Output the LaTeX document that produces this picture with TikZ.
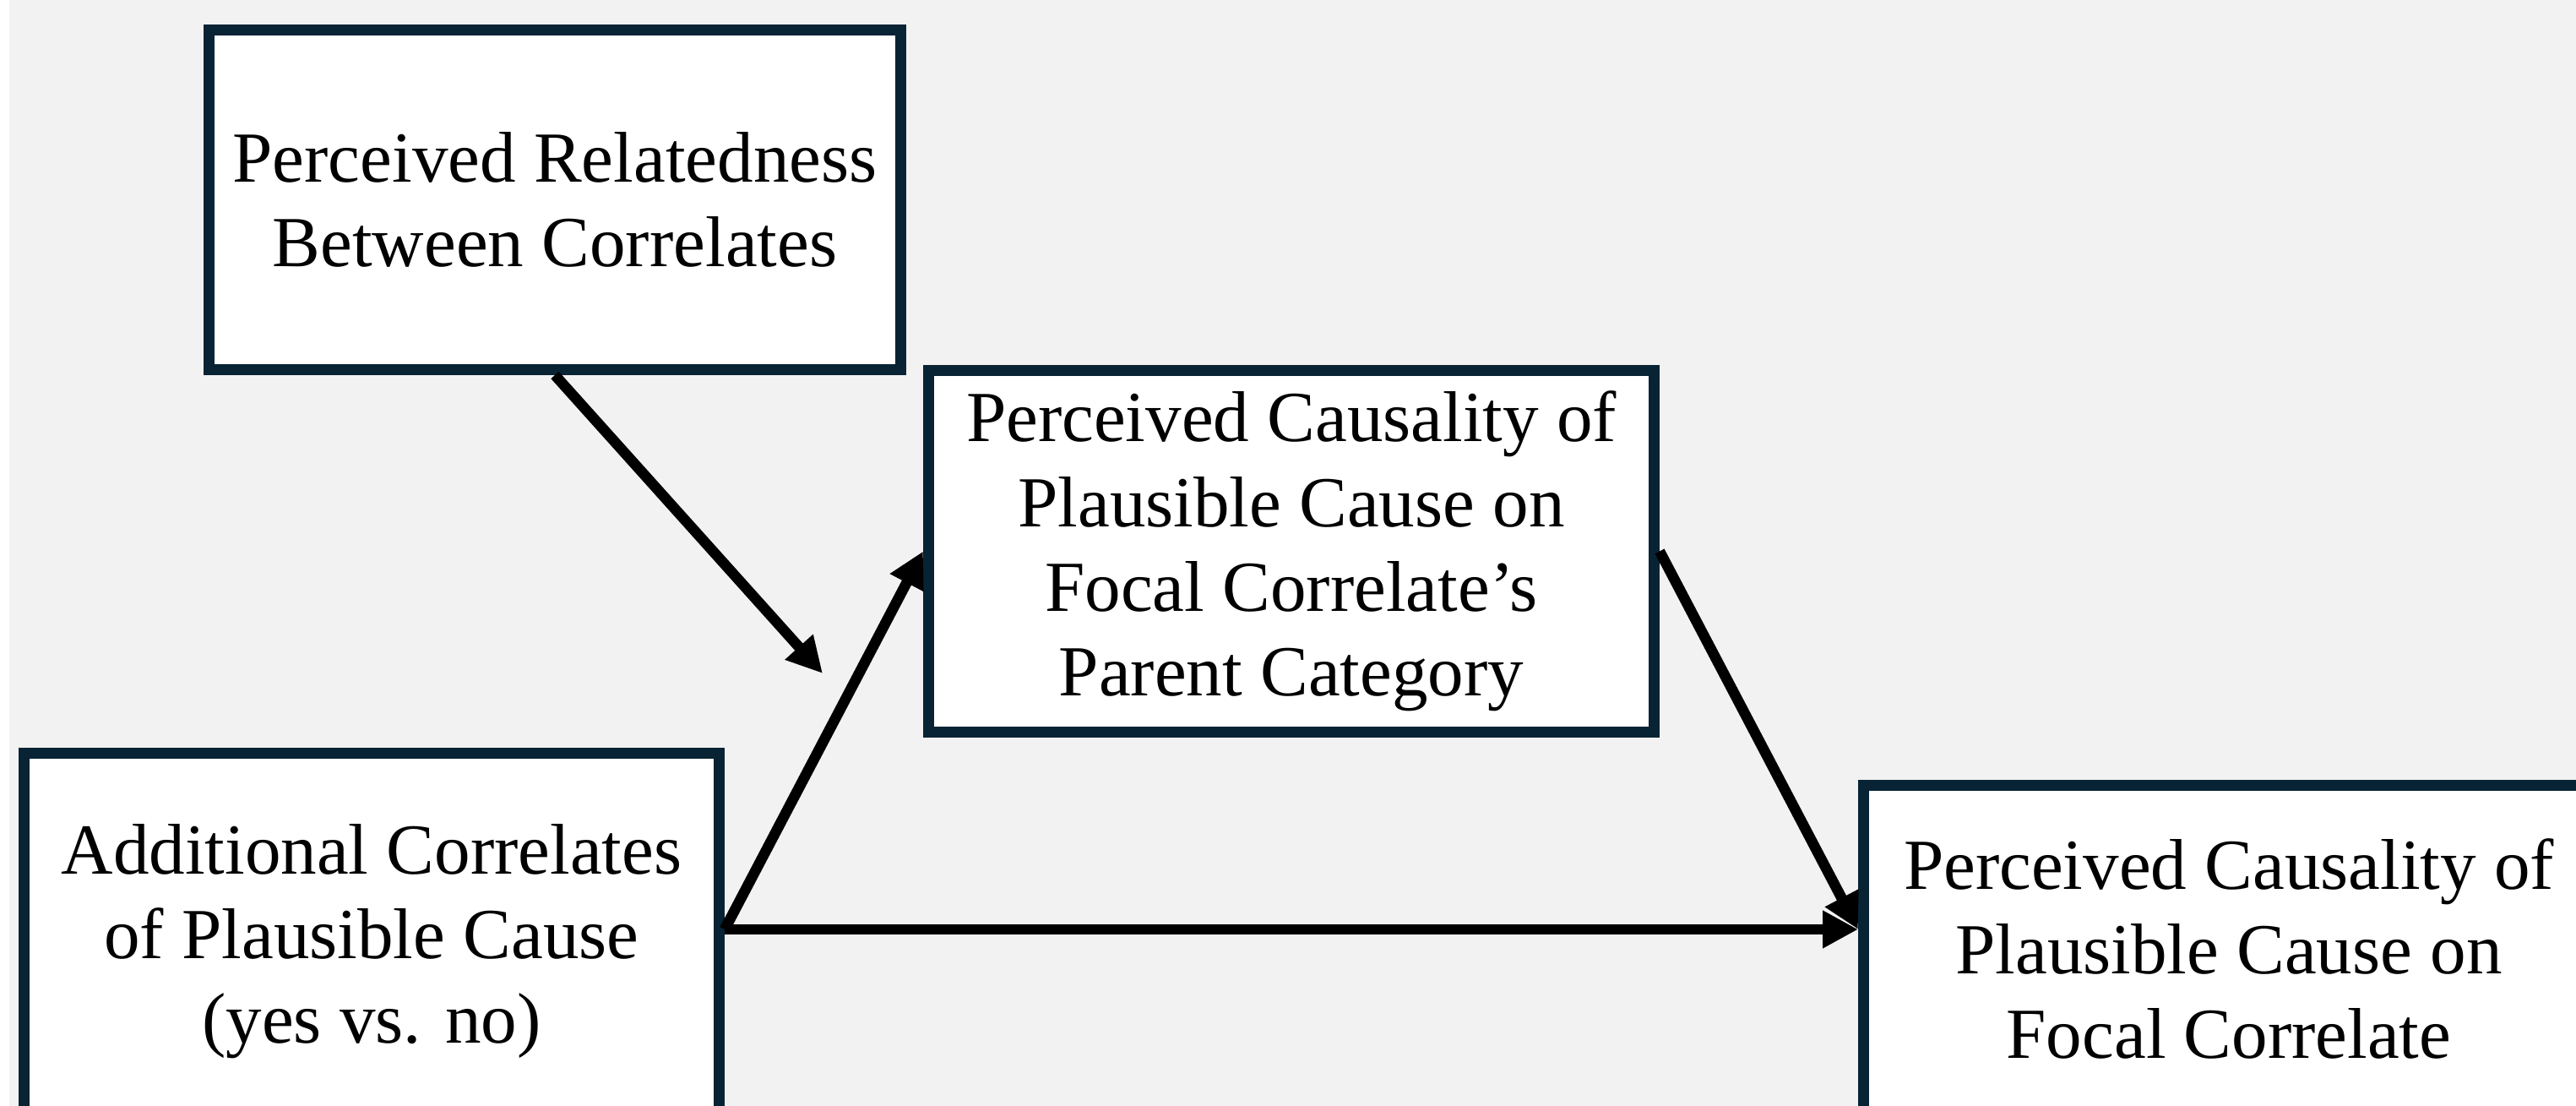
\documentclass[tikz,border=0pt]{standalone}
\usepackage{fontspec}
\setmainfont{Liberation Serif}
\usetikzlibrary{arrows.meta}
\definecolor{bggray}{RGB}{242,242,242}
\definecolor{boxline}{RGB}{8,35,52}
\begin{document}
\begin{tikzpicture}[
    box/.style={draw=boxline,fill=white,line width=0.13cm,align=center,inner sep=0pt,
      font=\fontsize{24.2}{28.5}\selectfont},
    path/.style={-{Triangle[length=0.42cm,width=0.42cm]},black,line width=0.125cm}]
      \useasboundingbox (0,0) rectangle (30.5,13.09);
      \clip (0,0) rectangle (30.5,13.09);
      \fill[bggray] (0,0) rectangle (30.5,13.09);
      \fill[white] (0,0) rectangle (0.11,13.09);

      \node[box,minimum width=8.19cm,minimum height=4.02cm] (relat) at (6.57,10.725)
        {Perceived Relatedness\\Between Correlates};
      \node[box,minimum width=8.59cm,minimum height=4.28cm] (causcat) at (15.29,6.565)
        {Perceived Causality of\\Plausible Cause on\\Focal Correlate’s\\Parent Category};
      \node[box,minimum width=8.23cm,minimum height=4.45cm] (addl) at (4.40,1.95)
        {Additional Correlates\\of Plausible Cause\\(yes vs. no)};
      \node[box,minimum width=8.65cm,minimum height=3.87cm] (focal) at (26.39,1.86)
        {Perceived Causality of\\Plausible Cause on\\Focal Correlate};

      \coordinate (split) at ([yshift=0.14cm]addl.east);
      \coordinate (modtip) at (9.74,5.12);

      \draw[path] (relat.south) -- (modtip);
      \draw[path] (split) -- (causcat.west);
      \draw[path] (split) -- (split -| focal.west);
      \draw[path] (causcat.east) -- (split -| focal.west);
\end{tikzpicture}
\end{document}
